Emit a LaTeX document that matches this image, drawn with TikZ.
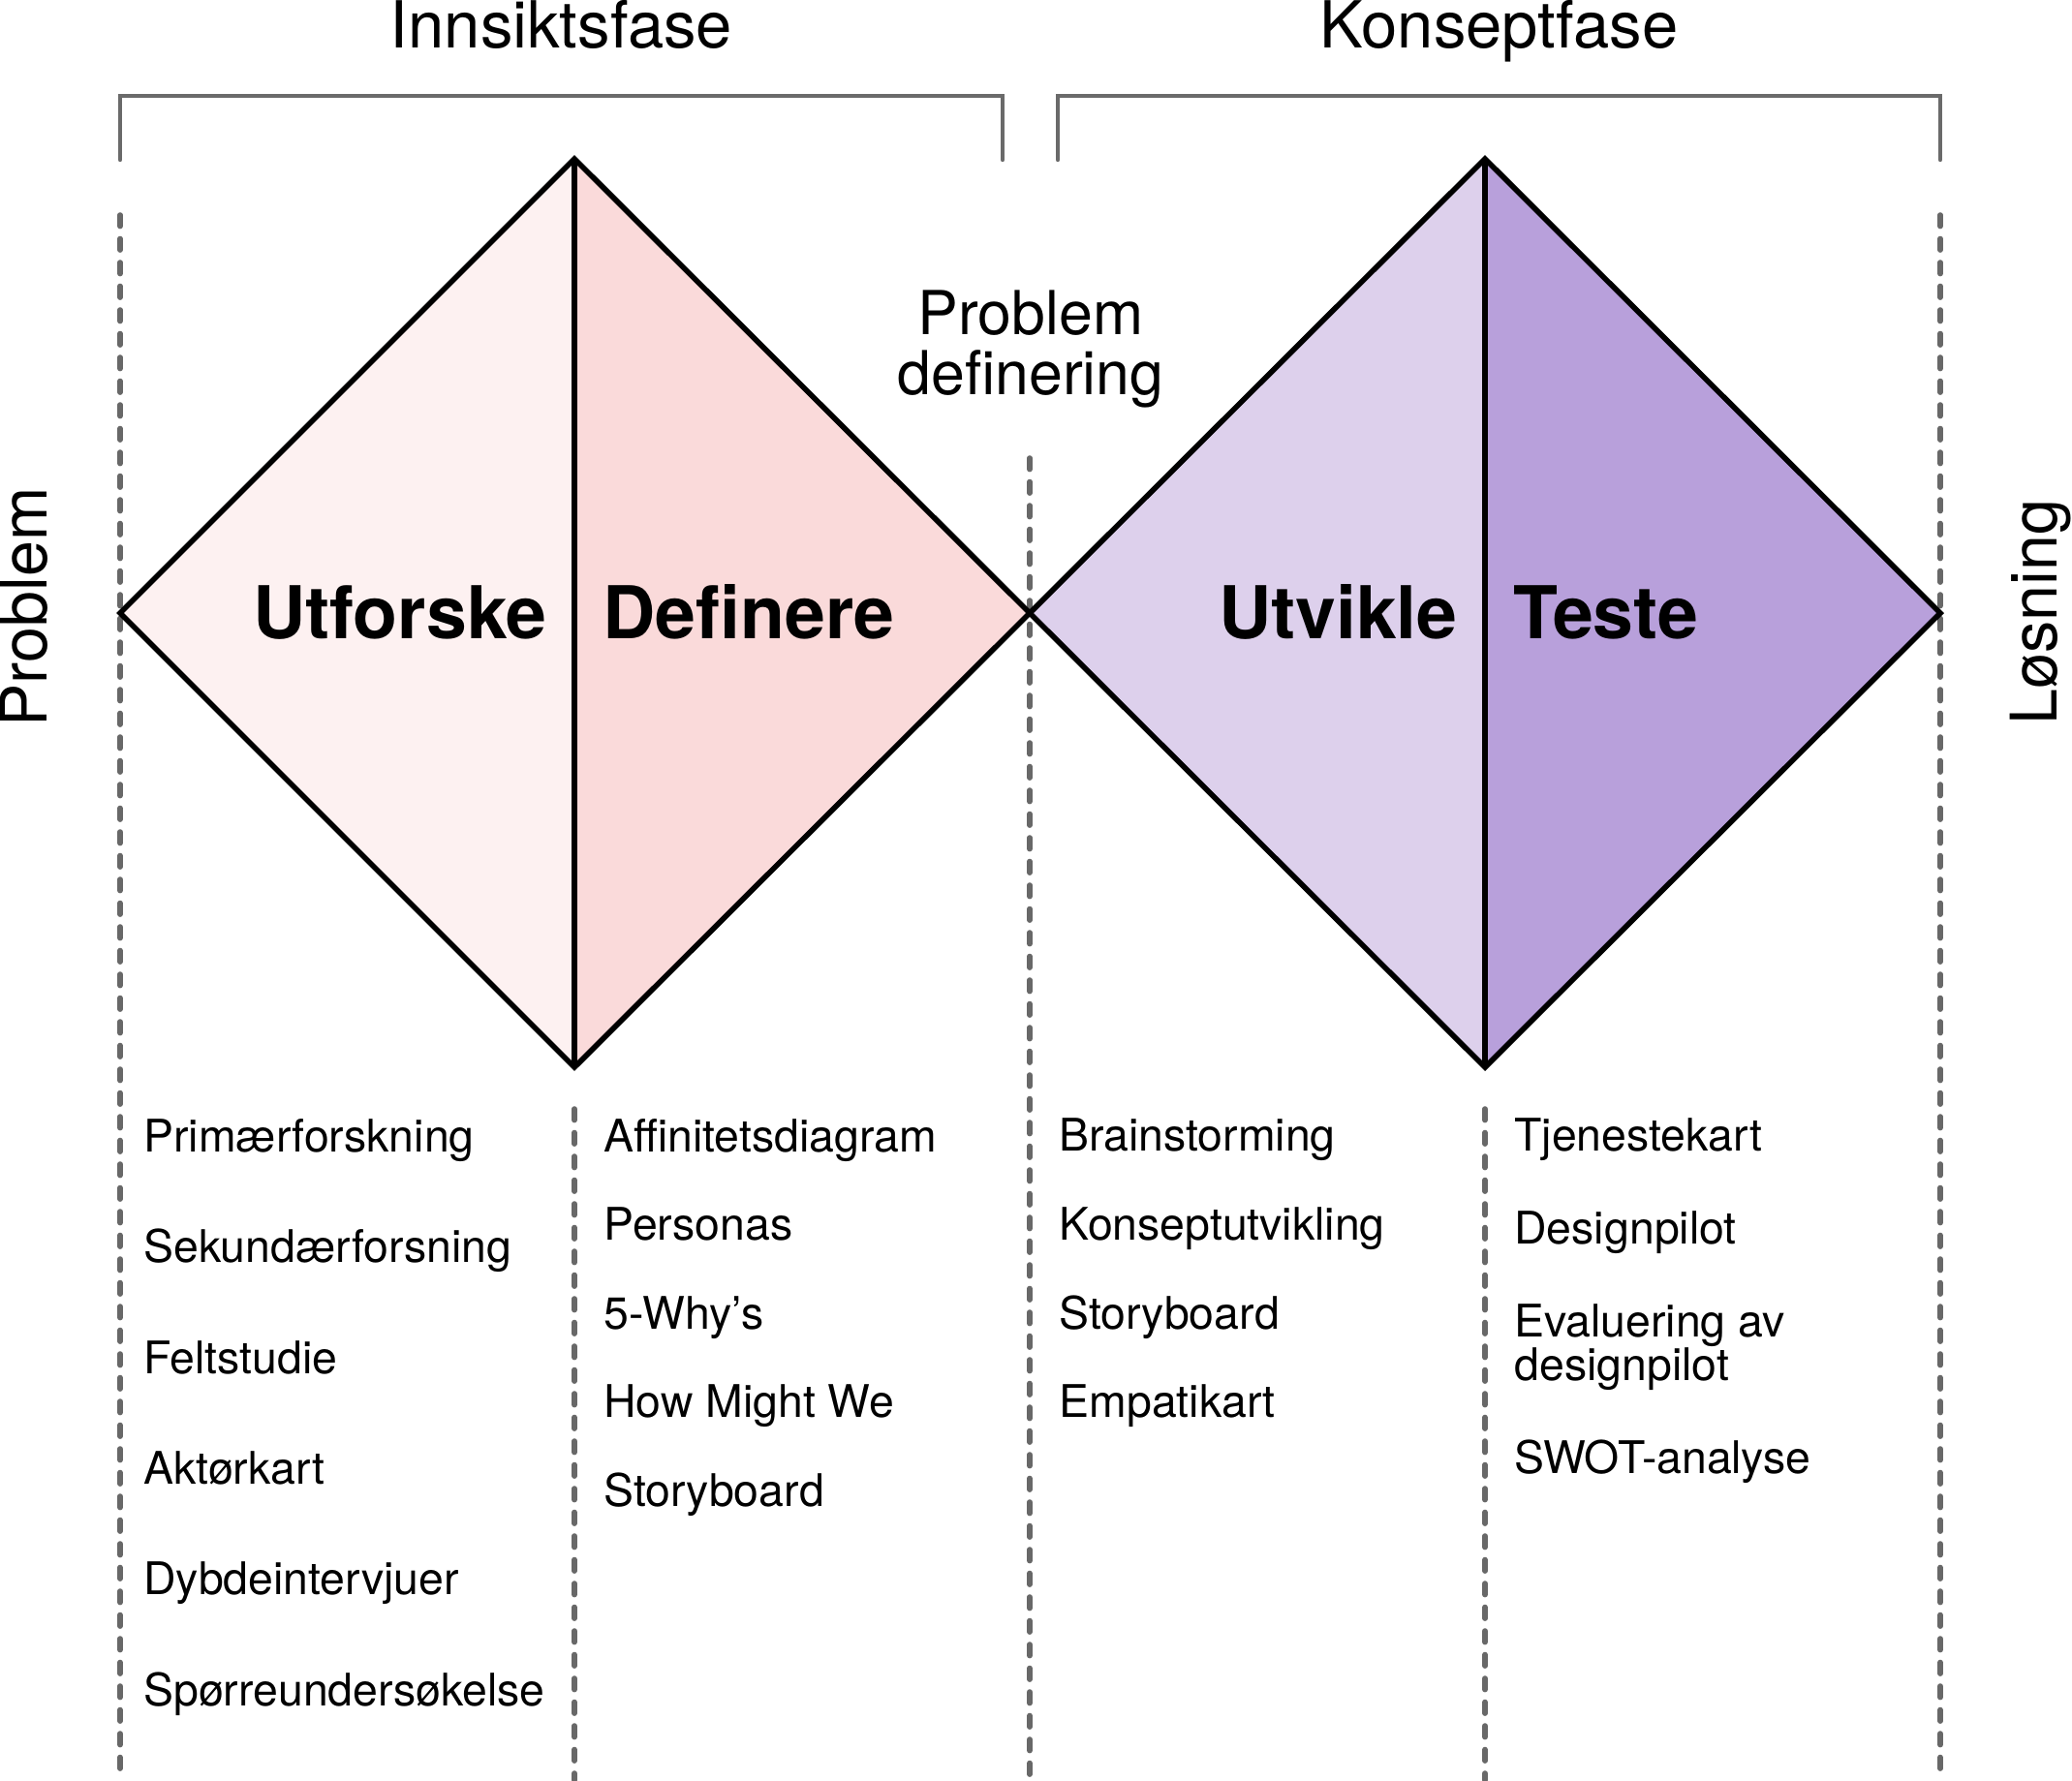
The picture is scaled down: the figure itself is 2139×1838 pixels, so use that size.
\documentclass[tikz,border=0pt]{standalone}
\usepackage{fontspec}
\setmainfont{TeX Gyre Heros}
\definecolor{fillA}{RGB}{253,241,241}
\definecolor{fillB}{RGB}{250,218,218}
\definecolor{fillC}{RGB}{221,208,236}
\definecolor{fillD}{RGB}{184,160,219}
\definecolor{guidegray}{RGB}{104,104,104}
\definecolor{brackgray}{RGB}{106,106,106}
\begin{document}
\begin{tikzpicture}[x=0.5pt,y=-0.5pt,
  guide/.style={draw=guidegray, line width=2.8pt, dash pattern=on 5.8pt off 6.45pt, line cap=round},
  bracket/.style={draw=brackgray, line width=2.2pt, line cap=round, line join=miter},
  outline/.style={draw=black, line width=2.8pt, line join=miter},
  title/.style={font=\fontsize{33.5}{40}\selectfont, inner sep=0pt, anchor=base},
  phase/.style={font=\bfseries\fontsize{37.6}{45}\selectfont, inner sep=0pt},
  item/.style={font=\fontsize{23.2}{28}\selectfont, inner sep=0pt, anchor=base west}]
\useasboundingbox (0,0) rectangle (2139,1838);

% guide coordinates
\coordinate (g1t) at (124,222);  \coordinate (g1b) at (124,1838);
\coordinate (g2t) at (593,1145); \coordinate (g2b) at (593,1838);
\coordinate (g3t) at (1063,473); \coordinate (g3b) at (1063,1838);
\coordinate (g4t) at (1533,1145);\coordinate (g4b) at (1533,1838);
\coordinate (g5t) at (2003,222); \coordinate (g5b) at (2003,1838);

\draw[guide] (g1t) -- (g1b);
\draw[guide] (g2t) -- (g2b);
\draw[guide] (g3t) -- (g3b);
\draw[guide] (g4t) -- (g4b);
\draw[guide] (g5t) -- (g5b);

% brackets
\coordinate (b1a) at (124,165);  \coordinate (b1b) at (124,99);
\coordinate (b1c) at (1035,99);  \coordinate (b1d) at (1035,165);
\coordinate (b2a) at (1092,165); \coordinate (b2b) at (1092,99);
\coordinate (b2c) at (2003,99);  \coordinate (b2d) at (2003,165);
\draw[bracket] (b1a) -- (b1b) -- (b1c) -- (b1d);
\draw[bracket] (b2a) -- (b2b) -- (b2c) -- (b2d);

% diamonds
\coordinate (L1) at (124,633);
\coordinate (T1) at (593,164);
\coordinate (B1) at (593,1102);
\coordinate (M)  at (1063,633);
\coordinate (T2) at (1533,164);
\coordinate (B2) at (1533,1102);
\coordinate (R2) at (2003,633);

\fill[fillA] (L1) -- (T1) -- (B1) -- cycle;
\fill[fillB] (T1) -- (M) -- (B1) -- cycle;
\fill[fillC] (M) -- (T2) -- (B2) -- cycle;
\fill[fillD] (T2) -- (R2) -- (B2) -- cycle;
\draw[outline] (L1) -- (T1) -- (M) -- (B1) -- cycle;
\draw[outline] (T1) -- (B1);
\draw[outline] (M) -- (T2) -- (R2) -- (B2) -- cycle;
\draw[outline] (T2) -- (B2);

% titles
\node[title] (innsikt) at (579.5,49) {Innsiktsfase};
\node[title] (konsept) at (1547.5,49) {Konseptfase};
\node[title, rotate=90, font=\fontsize{33.2}{40}\selectfont] (problem) at (48,627) {Problem};
\node[title, rotate=90, font=\fontsize{33.2}{40}\selectfont] (losning) at (2123,632) {Løsning};
\node[title, font=\fontsize{31.3}{37}\selectfont] (pd1) at (1064,345) {Problem};
\node[title, font=\fontsize{31.3}{37}\selectfont] (pd2) at (1064,407) {definering};

% phases
\node[phase, anchor=base east] (utforske) at (565,659) {Utforske};
\node[phase, anchor=base west] (definere) at (622,659) {Definere};
\node[phase, anchor=base east] (utvikle) at (1505,659) {Utvikle};
\node[phase, anchor=base west] (teste) at (1562,659) {Teste};

% column 1
\node[item] (c1a) at (148,1189) {Primærforskning};
\node[item] (c1b) at (148,1303) {Sekundærforsning};
\node[item] (c1c) at (148,1418) {Feltstudie};
\node[item] (c1d) at (148,1532) {Aktørkart};
\node[item] (c1e) at (148,1646) {Dybdeintervjuer};
\node[item] (c1f) at (148,1761) {Spørreundersøkelse};

% column 2
\node[item] (c2a) at (623,1189) {Affinitetsdiagram};
\node[item] (c2b) at (623,1280) {Personas};
\node[item] (c2c) at (623,1372) {5-Why’s};
\node[item] (c2d) at (623,1463) {How Might We};
\node[item] (c2e) at (623,1555) {Storyboard};

% column 3
\node[item] (c3a) at (1093,1188) {Brainstorming};
\node[item] (c3b) at (1093,1280) {Konseptutvikling};
\node[item] (c3c) at (1093,1372) {Storyboard};
\node[item] (c3d) at (1093,1463) {Empatikart};

% column 4
\node[item] (c4a) at (1563,1188) {Tjenestekart};
\node[item] (c4b) at (1563,1284) {Designpilot};
\node[item] (c4c) at (1563,1380) {Evaluering av};
\node[item] (c4d) at (1563,1425) {designpilot};
\node[item] (c4e) at (1563,1521) {SWOT-analyse};
\end{tikzpicture}
\end{document}
